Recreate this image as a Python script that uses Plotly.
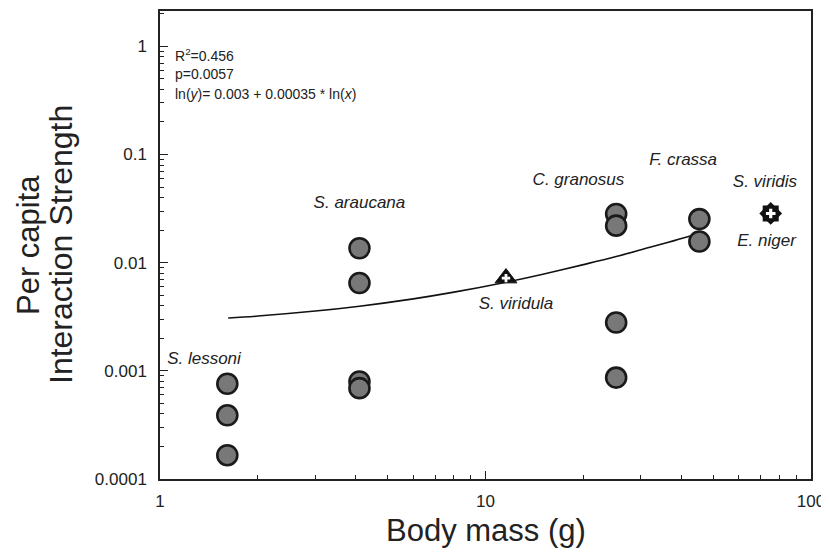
import plotly.graph_objects as go

# ---- data ----
circle_x = [1.61, 1.61, 1.61, 4.1, 4.1, 4.1, 4.1, 25.2, 25.2, 25.2, 25.2, 45.4, 45.4]
circle_y = [0.00076, 0.000388, 0.000166, 0.0136, 0.00649, 0.000798, 0.000692,
            0.0282, 0.0220, 0.00280, 0.000866, 0.0253, 0.0157]

viridula_x = [11.56]
viridula_y = [0.0072]
viridis_x = [75.2]
viridis_y = [0.0285]

fit_x = [1.62, 2, 3, 4.1, 6, 8, 11.56, 15, 20, 25.2, 32, 38, 45]
fit_y = [0.00308, 0.00321, 0.00357, 0.00396, 0.00463, 0.00534, 0.0066,
         0.00783, 0.0096, 0.0114, 0.0139, 0.016, 0.0185]

label_text = ["S. lessoni", "S. araucana", "S. viridula", "C. granosus",
              "F. crassa", "S. viridis", "E. niger"]
label_x = [1.365, 4.10, 12.41, 19.3, 40.5, 72.2, 73.0]
label_y = [0.00127, 0.0348, 0.00407, 0.0575, 0.0879, 0.0551, 0.0155]

x_major = [1, 10, 100]
x_major_text = ["1", "10", "100"]
y_major = [0.0001, 0.001, 0.01, 0.1, 1]
y_major_text = ["0.0001", "0.001", "0.01", "0.1", "1"]

stats_lines = ["R<sup>2</sup>=0.456", "p=0.0057",
               "ln(<i>y</i>)= 0.003 + 0.00035 * ln(<i>x</i>)"]

# minor tick positions (2..9 per decade)
x_minor = [m * 10 ** d for d in range(0, 2) for m in range(2, 10)]
y_minor = [m * 10 ** d for d in range(-4, 1) for m in range(2, 10)]

FONT = "Liberation Sans, Arial, Helvetica, sans-serif"
INK = "#222222"

fig = go.Figure()

fig.add_trace(go.Scatter(x=fit_x, y=fit_y, mode="lines",
                         line=dict(color="#111111", width=1.6, shape="spline"),
                         hoverinfo="skip", showlegend=False))

fig.add_trace(go.Scatter(x=circle_x, y=circle_y, mode="markers",
                         marker=dict(symbol="circle", size=20, color="#787878",
                                     line=dict(color="#1a1a1a", width=2.6)),
                         showlegend=False))

# S. viridula: black triangle with white cross
fig.add_trace(go.Scatter(x=viridula_x, y=viridula_y, mode="markers",
                         marker=dict(symbol="triangle-up", size=19, color="#111111",
                                     line=dict(color="#111111", width=1)),
                         showlegend=False))
fig.add_trace(go.Scatter(x=viridula_x, y=viridula_y, mode="markers",
                         marker=dict(symbol="cross", size=7, color="white",
                                     line=dict(width=0)),
                         showlegend=False))

# S. viridis / E. niger: black 8-point star with white cross
fig.add_trace(go.Scatter(x=viridis_x, y=viridis_y, mode="markers",
                         marker=dict(symbol="square", size=16, color="#111111",
                                     line=dict(width=0)),
                         showlegend=False))
fig.add_trace(go.Scatter(x=viridis_x, y=viridis_y, mode="markers",
                         marker=dict(symbol="diamond", size=17.5, color="#111111",
                                     line=dict(width=0)),
                         showlegend=False))
fig.add_trace(go.Scatter(x=viridis_x, y=viridis_y, mode="markers",
                         marker=dict(symbol="cross", size=8, color="white",
                                     line=dict(width=0)),
                         showlegend=False))

fig.add_trace(go.Scatter(x=label_x, y=label_y, mode="text",
                         text=["<i>%s</i>" % t for t in label_text],
                         textfont=dict(family=FONT, size=17, color=INK),
                         hoverinfo="skip", showlegend=False))

axis_common = dict(type="log", showgrid=False, zeroline=False,
                   showline=True, linecolor=INK, linewidth=1.5, mirror=True,
                   ticks="inside", ticklen=8, tickwidth=1.2, tickcolor=INK,
                   tickfont=dict(family=FONT, size=17, color=INK))

fig.update_xaxes(**axis_common, range=[0, 2],
                 tickvals=x_major, ticktext=x_major_text, ticklabelstandoff=6,
                 minor=dict(tickvals=x_minor, ticks="inside", ticklen=4,
                            tickwidth=1, tickcolor=INK))
fig.update_yaxes(**axis_common, range=[-4, 0.327],
                 tickvals=y_major, ticktext=y_major_text, ticklabelstandoff=8,
                 minor=dict(tickvals=y_minor, ticks="inside", ticklen=4,
                            tickwidth=1, tickcolor=INK))

annotations = []
for i, s in enumerate(stats_lines):
    annotations.append(dict(xref="paper", yref="paper", x=0.02, y=(478 - [52, 71, 91][i]) / 470,
                            xanchor="left", yanchor="middle", showarrow=False, text=s,
                            font=dict(family=FONT, size=14, color=INK)))

annotations.append(dict(xref="paper", yref="paper", x=0.5, y=(478 - 530) / 470,
                        xanchor="center", yanchor="middle", showarrow=False,
                        text="Body mass (g)", font=dict(family=FONT, size=31, color=INK)))
annotations.append(dict(xref="paper", yref="paper", x=(8.5 - 160) / 651, y=0.5,
                        xanchor="left", yanchor="middle", showarrow=False, textangle=-90,
                        text="Per capita", font=dict(family=FONT, size=31, color=INK)))
annotations.append(dict(xref="paper", yref="paper", x=(61 - 160) / 651, y=0.5,
                        xanchor="center", yanchor="middle", showarrow=False, textangle=-90,
                        text="Interaction Strength", font=dict(family=FONT, size=32, color=INK)))

# the page body adds an 8px margin, so the figure is 8px smaller and shifted
fig.update_layout(width=821, height=545,
                  margin=dict(l=152, r=18, t=1, b=74),
                  paper_bgcolor="white", plot_bgcolor="white",
                  annotations=annotations, showlegend=False)

fig.write_html("out.html")
